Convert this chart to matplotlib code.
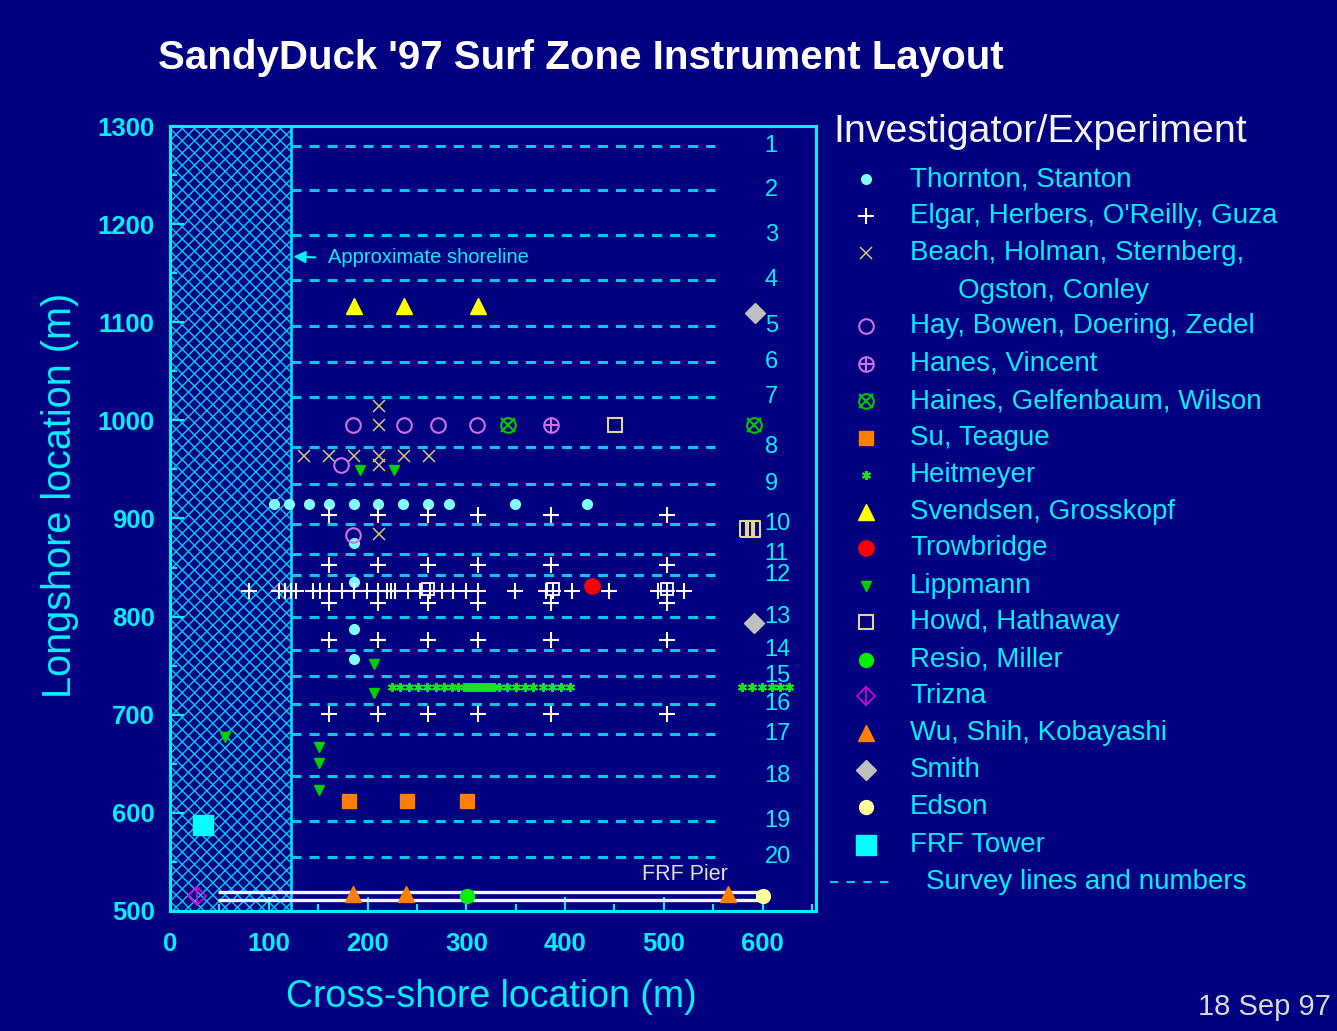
import numpy as np
import matplotlib
matplotlib.use("Agg")
from matplotlib import pyplot as plt
from matplotlib.ticker import MultipleLocator
from matplotlib.collections import LineCollection
from matplotlib.patches import Rectangle

plt.rcParams['font.family'] = ['Liberation Sans', 'DejaVu Sans']

# survey lines (longshore position, m) and their numbers
survey_y = [1280, 1235, 1189, 1143, 1096, 1060, 1024, 973, 935, 894,
            864, 842, 800, 766, 740, 711, 680, 638, 592, 555]
survey_num = ['1', '2', '3', '4', '5', '6', '7', '8', '9', '10',
              '11', '12', '13', '14', '15', '16', '17', '18', '19', '20']
shoreline_x = 122
survey_end_x = 552

# instrument positions (cross-shore x, longshore y)
thornton_x = [105, 120, 141, 161, 186, 211, 236, 261, 282, 349, 422, 186, 186, 186, 186]
thornton_y = [915, 915, 915, 915, 915, 915, 915, 915, 915, 915, 915, 875, 835, 787, 757]

elgar_x = [161, 211, 261, 312, 386, 503,
           161, 211, 261, 312, 386, 503,
           80, 110, 116, 122, 128, 145, 152, 161, 174, 186, 199, 211, 220, 224,
           228, 241, 253, 263, 275, 287, 300, 312, 349, 381, 388, 407, 444, 494, 503, 520,
           161, 211, 261, 312, 386, 503,
           161, 211, 261, 312, 386, 503,
           161, 211, 261, 312, 386, 503]
elgar_y = [904, 904, 904, 904, 904, 904,
           853, 853, 853, 853, 853, 853,
           826, 826, 826, 826, 826, 826, 826, 826, 826, 826, 826, 826, 826, 826,
           826, 826, 826, 826, 826, 826, 826, 826, 826, 826, 826, 826, 826, 826, 826, 826,
           814, 814, 814, 814, 814, 814,
           776, 776, 776, 776, 776, 776,
           701, 701, 701, 701, 701, 701]
elgar_box_x = [261, 388, 503]
elgar_box_y = [828, 828, 828]

beach_x = [212, 212, 136, 161, 186, 212, 237, 262, 212, 212]
beach_y = [1015, 995, 964, 964, 964, 964, 964, 964, 955, 884]

hay_x = [185, 237, 271, 311, 173, 185]
hay_y = [995, 995, 995, 995, 955, 883]

hanes_x = [386]
hanes_y = [995]

haines_x = [342, 591]
haines_y = [995, 995]

su_x = [181, 240, 301]
su_y = [612, 612, 612]

heitmeyer_x = [225, 233, 242, 251, 260, 269, 277, 285, 292, 298, 301, 304, 307, 310,
               313, 316, 319, 322, 325, 328, 333, 341, 350, 359, 368, 378, 387, 396, 405,
               579, 589, 599, 609, 618, 627]
heitmeyer_y = [728] * len(heitmeyer_x)

svendsen_x = [186, 237, 312]
svendsen_y = [1117, 1117, 1117]

trowbridge_x = [427]
trowbridge_y = [831]

lippmann_x = [192, 227, 207, 207, 56, 151, 151, 151]
lippmann_y = [949, 949, 752, 722, 677, 667, 651, 623]

howd_x = [451]
howd_y = [995]
howd_bar_x = [581, 587, 593]
howd_bar_y = [889, 889, 889]

resio_x = [301]
resio_y = [515]

trizna_x = [27]
trizna_y = [515]

wu_x = [185, 239, 565]
wu_y = [517, 517, 517]

smith_x = [592, 591]
smith_y = [1109, 793]

edson_x = [600]
edson_y = [515]

tower_x = [33]
tower_y = [588]

pier_x = [49, 600]
pier_rails_y = [511, 519]

legend_labels = ['Thornton, Stanton', "Elgar, Herbers, O'Reilly, Guza",
                 'Beach, Holman, Sternberg,', 'Hay, Bowen, Doering, Zedel',
                 'Hanes, Vincent', 'Haines, Gelfenbaum, Wilson', 'Su, Teague',
                 'Heitmeyer', 'Svendsen, Grosskopf', 'Trowbridge', 'Lippmann',
                 'Howd, Hathaway', 'Resio, Miller', 'Trizna', 'Wu, Shih, Kobayashi',
                 'Smith', 'Edson', 'FRF Tower']
legend_keys = ['thornton', 'elgar', 'beach', 'hay', 'hanes', 'haines', 'su',
               'heitmeyer', 'svendsen', 'trowbridge', 'lippmann', 'howd', 'resio',
               'trizna', 'wu', 'smith', 'edson', 'tower']

navy = '#000080'
cyan = '#00F0FF'
dash_c = '#00C8E8'
green = '#00C800'

styles = {
    'thornton': [dict(marker='o', ms=7, mfc='#80FFFF', mec='#80FFFF')],
    'elgar': [dict(marker='+', ms=11, mec='white', mew=1.5)],
    'beach': [dict(marker='x', ms=8.5, mec='#D8C878', mew=1.1)],
    'hay': [dict(marker='o', ms=10.5, mfc='none', mec='#D070E8', mew=1.5)],
    'hanes': [dict(marker='o', ms=10.5, mfc='none', mec='#D070E8', mew=1.5),
              dict(marker='+', ms=10.5, mec='#D070E8', mew=1.5)],
    'haines': [dict(marker='o', ms=10.5, mfc='none', mec=green, mew=1.5),
               dict(marker='x', ms=9.5, mec=green, mew=1.5)],
    'su': [dict(marker='s', ms=10, mfc='#FF8000', mec='#FF8000')],
    'heitmeyer': [dict(marker=(6, 2, 0), ms=6.5, mec='#20E020', mew=1.4)],
    'svendsen': [dict(marker='^', ms=11, mfc='#FFFF00', mec='#FFFF00')],
    'trowbridge': [dict(marker='o', ms=11, mfc='#FF0000', mec='#FF0000')],
    'lippmann': [dict(marker='v', ms=7, mfc='#00D000', mec='#00D000')],
    'howd': [dict(marker='s', ms=10, mfc='none', mec='#E0D890', mew=1.5)],
    'resio': [dict(marker='o', ms=10, mfc='#00F000', mec='#00F000')],
    'trizna': [dict(marker='D', ms=9, mfc='none', mec='#E000E0', mew=1.2),
               dict(marker='|', ms=14, mec='#E000E0', mew=1.2)],
    'wu': [dict(marker='^', ms=12, mfc='#FF8000', mec='#FF8000')],
    'smith': [dict(marker='D', ms=10, mfc='#C0C0C0', mec='#C0C0C0')],
    'edson': [dict(marker='o', ms=10, mfc='#FFFF99', mec='#FFFF99')],
    'tower': [dict(marker='s', ms=14.5, mfc='#00FFFF', mec='#00FFFF')],
}


def draw(axis, x, y, key, **kw):
    for st in styles[key]:
        axis.plot(x, y, ls='none', zorder=5, **st, **kw)


fig = plt.figure(figsize=(13.37, 10.31), dpi=100)
fig.patch.set_facecolor(navy)
ax = fig.add_axes([170 / 1337, 1 - 911 / 1031, 646 / 1337, 785 / 1031])
ax.set_facecolor(navy)
ax.set_xlim(0, 654)
ax.set_ylim(500, 1300)

# beach: cross-hatched strip drawn as clipped diagonals
slope = 1.007  # keeps the diagonals at 45 degrees on screen
starts = np.arange(360, 1440, 12.5)
segs = [[(0, b), (shoreline_x, b + slope * shoreline_x)] for b in starts]
segs += [[(0, b), (shoreline_x, b - slope * shoreline_x)] for b in starts]
hatch = LineCollection(segs, colors='#00D0F0', linewidths=1.0, zorder=1)
clip = Rectangle((0, 500), shoreline_x, 800, transform=ax.transData, facecolor='none', edgecolor='none')
ax.add_patch(clip)
ax.add_collection(hatch)
hatch.set_clip_path(clip)
ax.axvline(shoreline_x, color=cyan, lw=1.8, zorder=2)

# survey lines and numbers
ax.hlines(survey_y, shoreline_x, survey_end_x, colors=dash_c, lw=2.2,
          linestyles=(0, (3.3, 2.6)), zorder=2)
for yy, nn in zip(survey_y, survey_num):
    ax.text(602, yy, nn, color=cyan, fontsize=17, ha='left', va='center')

# FRF pier
for ry in pier_rails_y:
    ax.plot(pier_x, [ry, ry], color='#F4F4FF', lw=2.4, zorder=3, solid_capstyle='butt')
ax.text(521, 537, 'FRF Pier', color='#E0E0E0', fontsize=15.5, ha='center', va='center')

ax.annotate('', xy=(shoreline_x, 1167), xytext=(150, 1166),
            arrowprops=dict(arrowstyle='-|>', color=cyan, lw=1.5, mutation_scale=18))
ax.text(160, 1166, 'Approximate shoreline', color=cyan, fontsize=14.5, ha='left', va='center')

draw(ax, thornton_x, thornton_y, 'thornton')
draw(ax, elgar_x, elgar_y, 'elgar')
ax.plot(elgar_box_x, elgar_box_y, ls='none', marker='s', ms=8, mfc='none', mec='white', mew=1.3, zorder=5)
draw(ax, beach_x, beach_y, 'beach')
draw(ax, hay_x, hay_y, 'hay')
draw(ax, hanes_x, hanes_y, 'hanes')
draw(ax, haines_x, haines_y, 'haines')
draw(ax, su_x, su_y, 'su')
draw(ax, heitmeyer_x, heitmeyer_y, 'heitmeyer')
draw(ax, svendsen_x, svendsen_y, 'svendsen')
draw(ax, trowbridge_x, trowbridge_y, 'trowbridge')
draw(ax, lippmann_x, lippmann_y, 'lippmann')
draw(ax, howd_x, howd_y, 'howd')
ax.plot(howd_bar_x, howd_bar_y, ls='none', zorder=5, mfc='none', mec='#E0D890', mew=1.5, ms=11,
        marker=[(-0.25, -0.5), (0.25, -0.5), (0.25, 0.5), (-0.25, 0.5), (-0.25, -0.5)])
draw(ax, resio_x, resio_y, 'resio')
draw(ax, trizna_x, trizna_y, 'trizna')
draw(ax, wu_x, wu_y, 'wu')
draw(ax, smith_x, smith_y, 'smith')
draw(ax, edson_x, edson_y, 'edson')
draw(ax, tower_x, tower_y, 'tower')

# axes styling
for sp in ax.spines.values():
    sp.set_color(cyan)
    sp.set_linewidth(2.2)
ax.xaxis.set_major_locator(MultipleLocator(100))
ax.xaxis.set_minor_locator(MultipleLocator(50))
ax.yaxis.set_major_locator(MultipleLocator(100))
ax.yaxis.set_minor_locator(MultipleLocator(50))
ax.tick_params(which='both', direction='in', colors=cyan, width=1.5)
ax.tick_params(which='major', length=10)
ax.tick_params(which='minor', length=5)
ax.tick_params(axis='x', which='major', pad=15, labelsize=18.5)
ax.tick_params(axis='y', which='major', pad=11, labelsize=18.5)
for lab in ax.get_xticklabels() + ax.get_yticklabels():
    lab.set_fontweight('bold')

ax.set_xlabel('Cross-shore location (m)', color=cyan, fontsize=27, va='center')
ax.xaxis.set_label_coords(0.498, -0.110)
ax.set_ylabel('Longshore location (m)', color=cyan, fontsize=28.5, va='center')
ax.yaxis.set_label_coords(-0.170, 0.529)

fig.text(581 / 1337, 1 - 58 / 1031, "SandyDuck '97 Surf Zone Instrument Layout",
         color='white', fontsize=29, fontweight='bold', ha='center', va='center')

# legend, laid out in figure pixels
lax = fig.add_axes([0, 0, 1, 1], facecolor='none')
lax.set_xlim(0, 1337)
lax.set_ylim(1031, 0)
lax.axis('off')
lax.text(833, 132, 'Investigator/Experiment', color='#F4F4F4', fontsize=28.4, ha='left', va='center')
legend_rows = [179, 216, 253, 326, 364, 401, 438, 475, 512, 548, 586, 622, 660, 696, 733, 770, 807, 845]
for key, lab, ry in zip(legend_keys, legend_labels, legend_rows):
    draw(lax, [866], [ry], key)
    lax.text(910, ry, lab, color=cyan, fontsize=20, ha='left', va='center')
lax.text(958, 291, 'Ogston, Conley', color=cyan, fontsize=20, ha='left', va='center')
lax.plot([830, 892], [882, 882], color=dash_c, lw=1.5, ls=(0, (4, 4)))
lax.text(926, 882, 'Survey lines and numbers', color=cyan, fontsize=20, ha='left', va='center')

fig.text(1198 / 1337, 1 - 1007 / 1031, '18 Sep 97', color='#D8D8D8', fontsize=21,
         ha='left', va='center')

fig.savefig('out.png', dpi=100, facecolor=navy)
